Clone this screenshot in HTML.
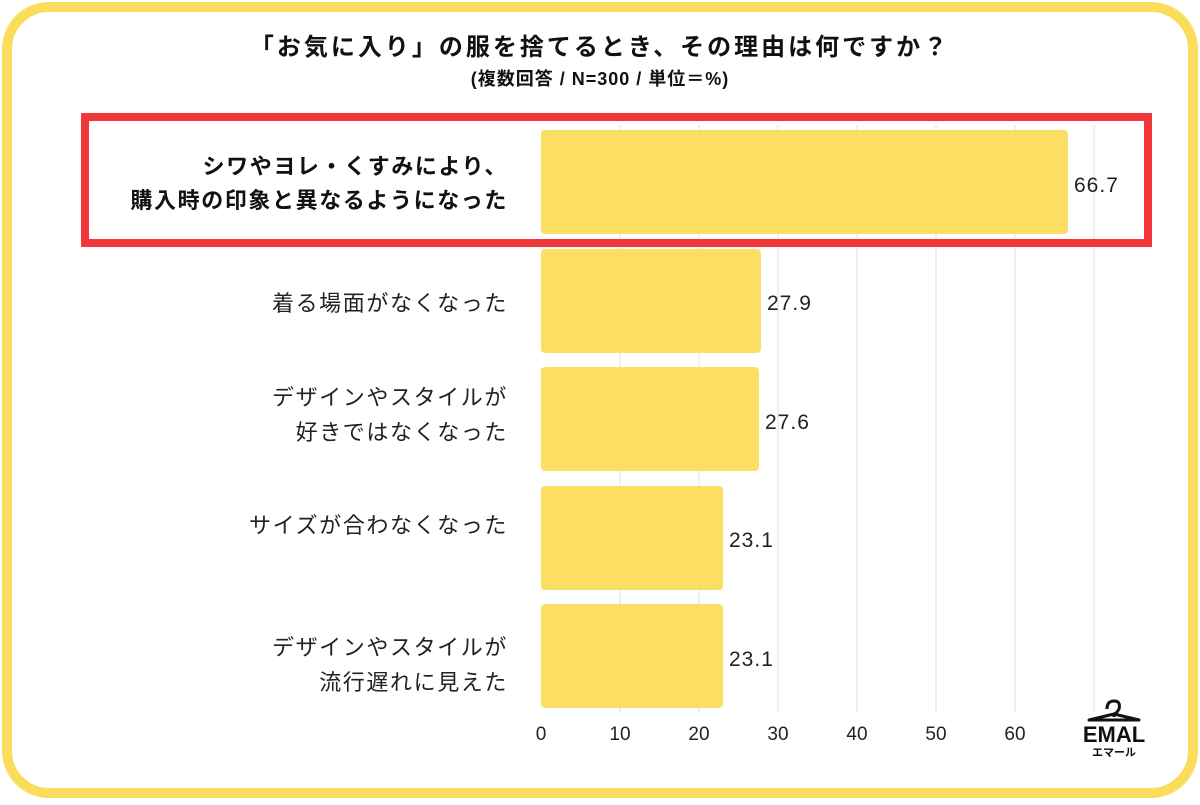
<!DOCTYPE html>
<html><head><meta charset="utf-8"><style>
body{margin:0;width:1200px;height:800px;background:#fff;overflow:hidden}
svg text{font-family:"Liberation Sans","Noto Sans CJK JP",sans-serif}
</style></head><body>
<svg width="1200" height="800" viewBox="0 0 1200 800" xmlns="http://www.w3.org/2000/svg">
<rect x="7" y="7" width="1186" height="786" rx="42" fill="#fff" stroke="#FCDC5C" stroke-width="10"/>
<text x="600" y="55" font-size="24" font-weight="bold" text-anchor="middle" fill="#111" letter-spacing="3">「お気に入り」の服を捨てるとき、その理由は何ですか？</text>
<text x="600" y="85" font-size="18" font-weight="bold" text-anchor="middle" fill="#111" letter-spacing="1">(複数回答 / N=300 / 単位＝%)</text>
<g stroke="#e2e2e2" stroke-width="1">
<line x1="620" y1="125" x2="620" y2="712"/><line x1="699" y1="125" x2="699" y2="712"/><line x1="778" y1="125" x2="778" y2="712"/><line x1="857" y1="125" x2="857" y2="712"/><line x1="936" y1="125" x2="936" y2="712"/><line x1="1015" y1="125" x2="1015" y2="712"/><line x1="1094" y1="125" x2="1094" y2="712"/>
</g>
<g fill="#FCDE62">
<rect x="541" y="130" width="527" height="104" rx="4"/>
<rect x="541" y="249" width="220" height="104" rx="4"/>
<rect x="541" y="367" width="218" height="104" rx="4"/>
<rect x="541" y="486" width="182" height="104" rx="4"/>
<rect x="541" y="604" width="182" height="104" rx="4"/>
</g>
<g font-size="21" fill="#222" letter-spacing="1">
<text x="1074" y="192">66.7</text>
<text x="767" y="310">27.9</text>
<text x="765" y="429">27.6</text>
<text x="729" y="547">23.1</text>
<text x="729" y="666">23.1</text>
</g>
<g font-size="22" fill="#222" text-anchor="end" letter-spacing="1.6">
<text x="508" y="174" font-weight="bold" fill="#111">シワやヨレ・くすみにより、</text>
<text x="508" y="208" font-weight="bold" fill="#111">購入時の印象と異なるようになった</text>
<text x="508" y="311">着る場面がなくなった</text>
<text x="508" y="405">デザインやスタイルが</text>
<text x="508" y="440">好きではなくなった</text>
<text x="508" y="533">サイズが合わなくなった</text>
<text x="508" y="655">デザインやスタイルが</text>
<text x="508" y="690">流行遅れに見えた</text>
</g>
<g font-size="19" fill="#222" text-anchor="middle">
<text x="541" y="740">0</text><text x="620" y="740">10</text><text x="699" y="740">20</text><text x="778" y="740">30</text><text x="857" y="740">40</text><text x="936" y="740">50</text><text x="1015" y="740">60</text>
</g>
<rect x="85" y="117" width="1063" height="126" fill="none" stroke="#F2373A" stroke-width="8"/>
<g transform="translate(1083,690)">
<path d="M24 19 q0-8 7-8 q7 0 5 8 q-2 4-5 5 v3 M6 30 L31 24 L56 30 Z" fill="none" stroke="#111" stroke-width="3" stroke-linejoin="round"/>
<text x="31" y="52" font-size="22" font-weight="bold" text-anchor="middle" fill="#111">EMAL</text>
<text x="31" y="66" font-size="11" font-weight="bold" text-anchor="middle" fill="#111">エマール</text>
</g>
</svg>
</body></html>
